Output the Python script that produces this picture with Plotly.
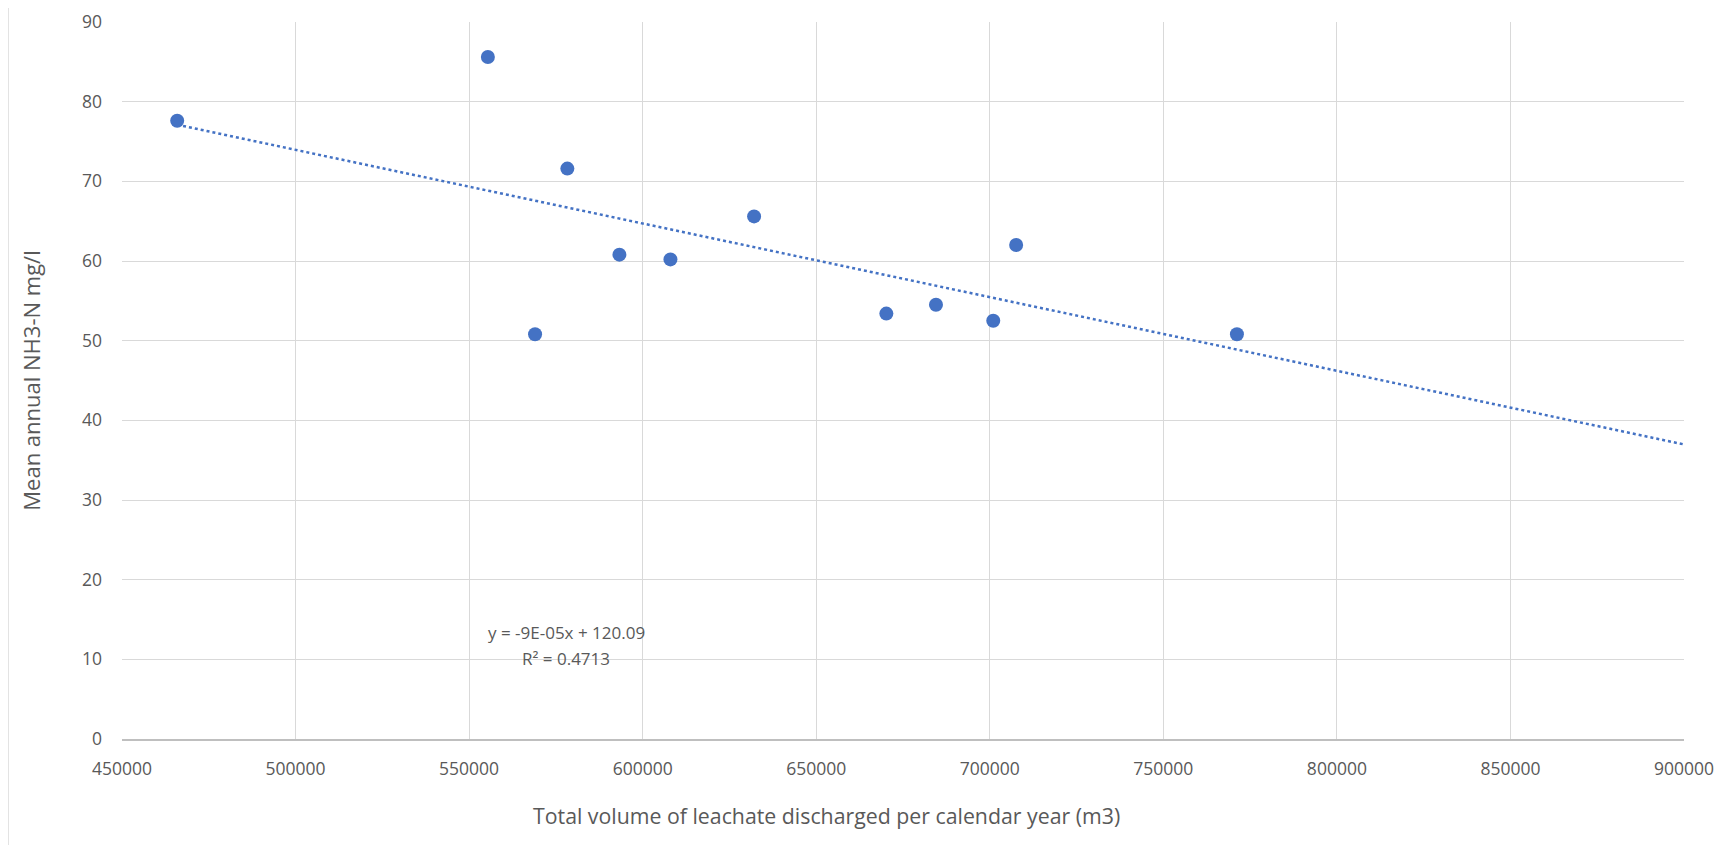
import numpy as np
import plotly.graph_objects as go

# Data
volume_m3 = [465900, 555400, 569000, 578300, 593300, 608000, 632100, 670200, 684500, 701000, 707600, 771200]
nh3n_mgl = [77.6, 85.6, 50.8, 71.6, 60.8, 60.2, 65.6, 53.4, 54.5, 52.5, 62.0, 50.8]

x_ticks = [450000, 500000, 550000, 600000, 650000, 700000, 750000, 800000, 850000, 900000]
y_ticks = [0, 10, 20, 30, 40, 50, 60, 70, 80, 90]
equation_lines = ["y = -9E-05x + 120.09", "R² = 0.4713"]
x_title = "Total volume of leachate discharged per calendar year (m3)"
y_title = "Mean annual NH3-N mg/l"

BLUE = "#4472C4"
GRID = "#d9d9d9"
TXT = "#595959"
FONT = "Open Sans"

# Linear trendline fitted to the data, extended forward to 900000
slope, intercept = np.polyfit(volume_m3, nh3n_mgl, 1)
trend_x = np.array([min(volume_m3), x_ticks[-1]])
trend_y = slope * trend_x + intercept

fig = go.Figure()
fig.add_trace(go.Scatter(
    x=trend_x, y=trend_y, mode="lines",
    line=dict(color=BLUE, width=2.5, dash="dot"),
    hoverinfo="skip", showlegend=False,
))
fig.add_trace(go.Scatter(
    x=volume_m3, y=nh3n_mgl, mode="markers",
    marker=dict(color=BLUE, size=14, line=dict(width=0)),
    showlegend=False,
))

for text, yv in zip(equation_lines, [13.4, 10.1]):
    fig.add_annotation(
        x=578000, y=yv, xref="x", yref="y",
        text=text, showarrow=False,
        font=dict(family=FONT, size=17, color=TXT), align="center",
    )

# x-axis title (centred on the chart area, as in the original)
fig.add_annotation(
    x=0.451, y=-0.106, xref="paper", yref="paper",
    xanchor="center", yanchor="middle",
    text=x_title, showarrow=False,
    font=dict(family=FONT, size=21.3, color=TXT),
)

# left border of the chart frame
fig.add_shape(type="line", xref="paper", yref="paper",
              x0=-0.073, x1=-0.073, y0=-0.2, y1=1.05,
              line=dict(color=GRID, width=1.5))

fig.update_layout(
    width=1729, height=845,
    margin=dict(l=114, r=53, t=14, b=114),
    paper_bgcolor="white", plot_bgcolor="white",
    font=dict(family=FONT, size=17, color=TXT),
    xaxis=dict(
        range=[x_ticks[0], x_ticks[-1]], tickvals=x_ticks,
        ticktext=[str(v) for v in x_ticks], automargin=False,
        showgrid=True, gridcolor=GRID, gridwidth=1.3,
        showline=True, linecolor="#bfbfbf", linewidth=1.5,
        zeroline=False, ticks="", ticklen=0, ticklabelstandoff=13,
        tickfont=dict(family=FONT, size=17.5, color=TXT),
    ),
    yaxis=dict(
        range=[y_ticks[0], y_ticks[-1]], tickvals=y_ticks, automargin=False,
        showgrid=True, gridcolor=GRID, gridwidth=1.3,
        showline=False, zeroline=False, ticks="", ticklabelstandoff=19,
        tickfont=dict(family=FONT, size=17.5, color=TXT),
        title=dict(text=y_title,
                   font=dict(family=FONT, size=22, color=TXT), standoff=35),
    ),
)

fig.write_html("out.html")
